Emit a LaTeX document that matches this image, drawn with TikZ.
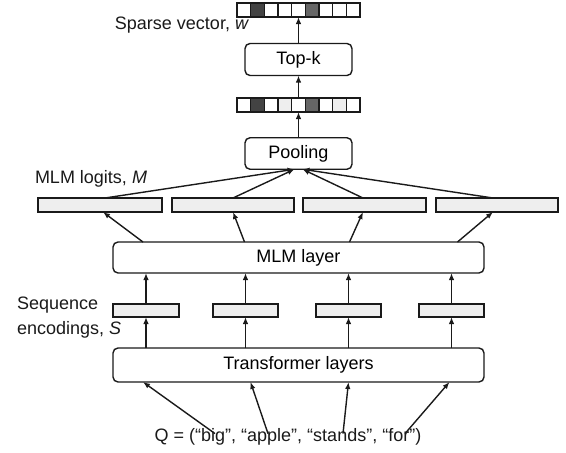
\documentclass[tikz,border=0pt]{standalone}
\usepackage{fontspec}
\setmainfont{Liberation Sans}
\usetikzlibrary{arrows.meta,calc}
\definecolor{barfill}{HTML}{EEEEEE}
\definecolor{celldark}{HTML}{434343}
\definecolor{cellmid}{HTML}{666666}
\definecolor{inkc}{HTML}{1A1A1A}
\tikzset{
  base/.style={line width=1.4pt, outer sep=0pt, inner sep=0pt, draw=inkc},
  rbox/.style={base, draw, rounded corners=5pt, fill=white},
  bar/.style={base, draw, fill=barfill},
  vec/.style={base, draw=none, minimum width=123pt, minimum height=14pt},
  lbl/.style={inner sep=0pt, outer sep=0pt, text=inkc},
  arr/.style={line width=1.4pt, draw=inkc, -{Latex[length=7pt,width=5.5pt]}},
  cellbox/.style={line width=1.4pt, draw=inkc},
}
\begin{document}
\begin{tikzpicture}[x=1pt,y=-1pt]
\fontsize{18}{21}\selectfont
\useasboundingbox (0,0) rectangle (566,453);
% vectors
\node[vec] (topvec) at (298.5,10) {};
\node[vec] (midvec) at (298.5,105) {};
\foreach \i/\c in {0/white,1/celldark,2/white,3/white,4/white,5/cellmid,6/white,7/white,8/white}{
  \draw[cellbox, fill=\c] ($(topvec.north west)+(\i*13.667,0)$) rectangle ++(13.667,14);
}
\foreach \i/\c in {0/white,1/celldark,2/white,3/barfill,4/white,5/cellmid,6/white,7/barfill,8/white}{
  \draw[cellbox, fill=\c] ($(midvec.north west)+(\i*13.667,0)$) rectangle ++(13.667,14);
}
\node[lbl, anchor=east] (sparse) at (249,25) {Sparse vector, \textit{w}};
% boxes
\node[rbox, minimum width=107pt, minimum height=32pt] (topk) at (298.5,59.5) {Top-k};
\node[rbox, minimum width=107pt, minimum height=31.5pt] (pool) at (298.5,153.5) {Pooling};
% bars
\node[bar, minimum width=124pt, minimum height=14pt] (b1) at (100,205) {};
\node[bar, minimum width=122pt, minimum height=14pt] (b2) at (233,205) {};
\node[bar, minimum width=123pt, minimum height=14pt] (b3) at (364.5,205) {};
\node[bar, minimum width=122pt, minimum height=14pt] (b4) at (497,205) {};
\node[lbl, anchor=west] (mlmlbl) at (35,179) {MLM logits, \textit{M}};
% MLM layer
\node[rbox, minimum width=371pt, minimum height=31pt] (mlm) at (298.5,257.5) {MLM layer};
% sequence encodings
\node[bar, minimum width=66pt, minimum height=13pt] (s1) at (146,310.5) {};
\node[bar, minimum width=65pt, minimum height=13pt] (s2) at (245.5,310.5) {};
\node[bar, minimum width=65pt, minimum height=13pt] (s3) at (348.5,310.5) {};
\node[bar, minimum width=65pt, minimum height=13pt] (s4) at (451.5,310.5) {};
\node[lbl, anchor=west] (seqlbl1) at (17,305) {Sequence};
\node[lbl, anchor=west] (seqlbl2) at (17,330) {encodings, \textit{S}};
% transformer
\node[rbox, minimum width=371pt, minimum height=34pt] (tr) at (298.5,365) {Transformer layers};
% query
\node[lbl] (q) at (288,437) {Q = (“big”, “apple”, “stands”, “for”)};
% arrows: query -> transformer
\draw[arr] ([xshift=-73pt,yshift=-5pt]q.north) -- ([xshift=-3pt]tr.south -| s1);
\draw[arr] ([xshift=-20pt,yshift=-5pt]q.north) -- ([xshift=5pt]tr.south -| s2);
\draw[arr] ([xshift=55pt,yshift=-5pt]q.north) -- (tr.south -| s3);
\draw[arr] ([xshift=117pt,yshift=-5pt]q.north) -- ([xshift=-2pt]tr.south -| s4);
% transformer -> seq enc -> mlm
\foreach \s in {s1,s2,s3,s4}{
  \draw[arr] (tr.north -| \s) -- (\s.south);
  \draw[arr] (\s.north) -- (mlm.south -| \s);
}
% mlm -> bars
\draw[arr] ([xshift=-3pt]mlm.north -| s1) -- ([xshift=3pt]b1.south);
\draw[arr] ([xshift=-1pt]mlm.north -| s2) -- (b2.south);
\draw[arr] ([xshift=1pt]mlm.north -| s3) -- ([xshift=-1.5pt]b3.south);
\draw[arr] ([xshift=6pt]mlm.north -| s4) -- ([xshift=-4pt]b4.south);
% bars -> pooling
\draw[arr] ([xshift=5pt]b1.north) -- ([xshift=-4pt]pool.south);
\draw[arr] (b2.north) -- ([xshift=-4pt]pool.south);
\draw[arr] ([xshift=-1.5pt]b3.north) -- ([xshift=4pt]pool.south);
\draw[arr] ([xshift=-4pt]b4.north) -- ([xshift=4pt]pool.south);
% pooling -> vec -> topk -> vec
\draw[arr] (pool.north) -- (midvec.south);
\draw[arr] (midvec.north) -- (topk.south);
\draw[arr] (topk.north) -- (topvec.south);
\end{tikzpicture}
\end{document}
